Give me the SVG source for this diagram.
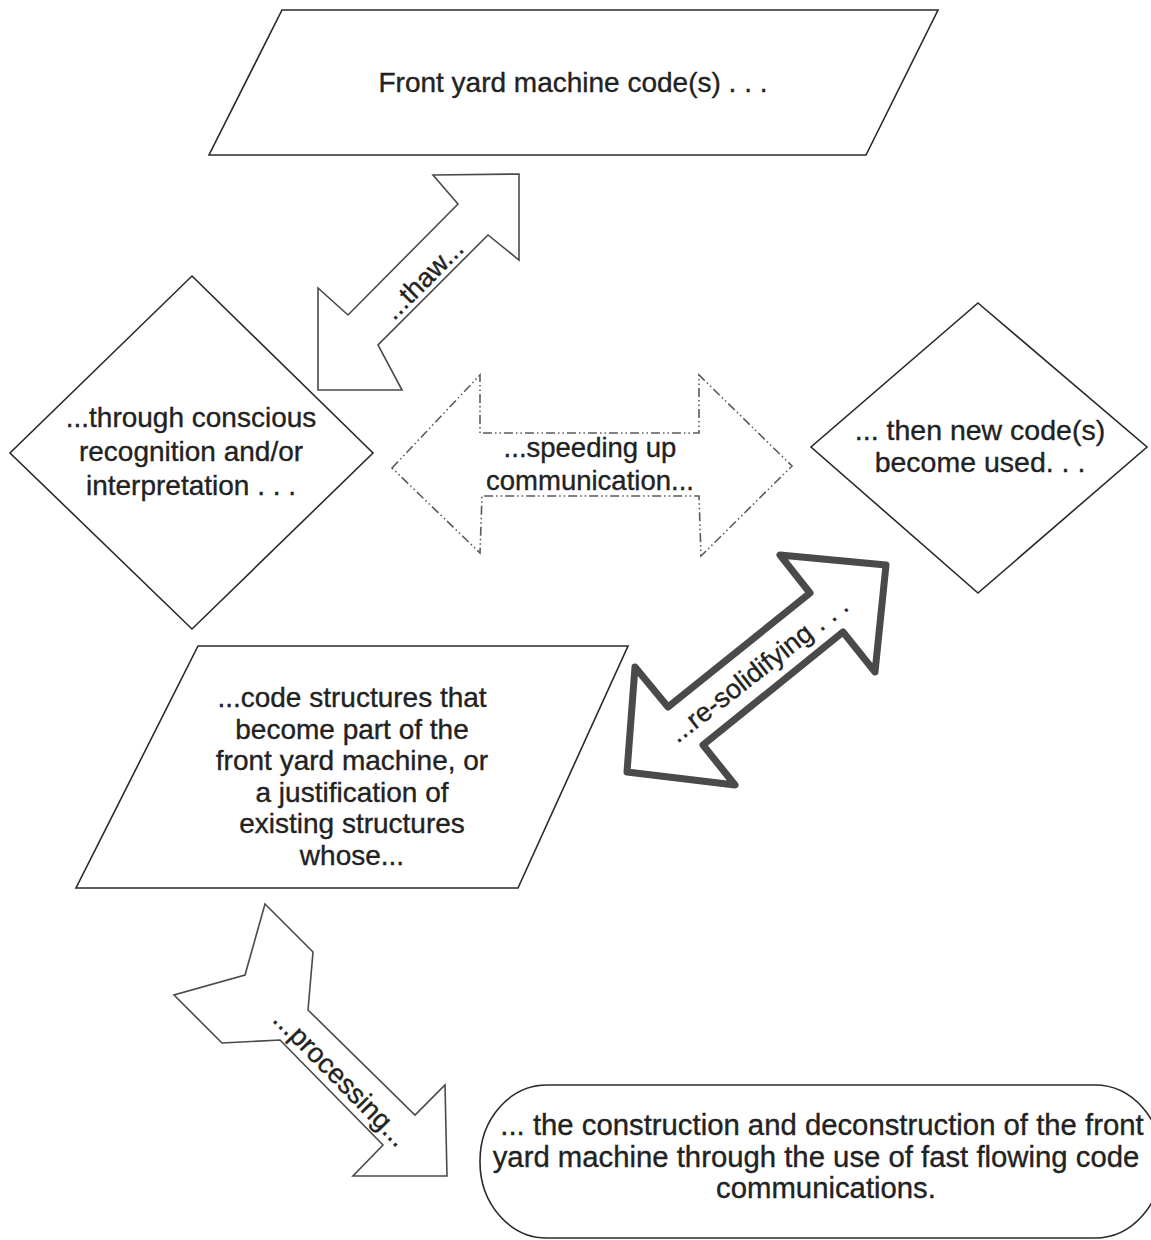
<svg xmlns="http://www.w3.org/2000/svg" width="1151" height="1240" viewBox="0 0 1151 1240">
<style>
.shape{fill:#fff;stroke:#2a2a2a;stroke-width:1.6;stroke-linejoin:miter}
.thin{fill:#fff;stroke:#4a4a4a;stroke-width:1.6}
.dash{fill:none;stroke:#5a5a5a;stroke-width:1.6;stroke-dasharray:9 3 1.5 3 1.5 3}
.thick{fill:#fff;stroke:#4a4a4a;stroke-width:7;stroke-linejoin:round}
text{font-family:"Liberation Sans",Arial,sans-serif;fill:#222;stroke:#222;stroke-width:0.35;text-anchor:middle}
</style>
<rect width="1151" height="1240" fill="#fff"/>
<g id="connectors">
  <g id="thaw">
    <polygon class="thin" points="433,175 519,174 519,260 488,235 378,345 402,390 318,390 318,288 348,315 458,204"/>
    <text transform="translate(424,280) rotate(-45)" y="8" font-size="27">...thaw...</text>
  </g>
  <g id="speeding">
    <polygon class="dash" points="392,468 480,375 480,433 699,433 699,375 792,466 701,556 699,496 482,496 480,553"/>
    <text x="590" y="457" font-size="27.5">...speeding up</text>
    <text x="590" y="490" font-size="27.5">communication...</text>
  </g>
  <g id="resolidifying">
    <polygon class="thick" points="780,555 886,565 875,672 843,632 703,745 735,785 627,772 635,667 668,707 810,593"/>
    <text transform="translate(759,670) rotate(-38)" y="8" font-size="27">...re-solidifying . . .</text>
  </g>
  <g id="processing">
    <polygon class="thin" points="265,904 313,952 308,1010 415,1115 445,1085 447,1176 353,1176 383,1145 280,1040 222,1043 174,995 245,975"/>
    <text transform="translate(340,1079) rotate(45.5)" y="8" font-size="27.5">...processing...</text>
  </g>
</g>
<g id="node-top">
  <polygon class="shape" points="282,10 938,10 866,155 209,155"/>
  <text x="573" y="92" font-size="28">Front yard machine code(s) . . .</text>
</g>
<g id="node-left">
  <polygon class="shape" points="192,276 373,453 192,629 10,453"/>
  <text x="191" y="427" font-size="28">...through conscious</text>
  <text x="191" y="461" font-size="28">recognition and/or</text>
  <text x="191" y="495" font-size="28">interpretation . . .</text>
</g>
<g id="node-right">
  <polygon class="shape" points="978,303 1147,447 978,593 811,447"/>
  <text x="980" y="440" font-size="28.5">... then new code(s)</text>
  <text x="980" y="472" font-size="28.5">become used. . .</text>
</g>
<g id="node-middle">
  <polygon class="shape" points="198,646 628,646 518,888 76,888"/>
  <text x="352" y="707" font-size="28">...code structures that</text>
  <text x="352" y="739" font-size="28">become part of the</text>
  <text x="352" y="770" font-size="28">front yard machine, or</text>
  <text x="352" y="802" font-size="28">a justification of</text>
  <text x="352" y="833" font-size="28">existing structures</text>
  <text x="352" y="865" font-size="28">whose...</text>
</g>
<g id="node-bottom">
  <rect class="shape" x="480" y="1085" width="682" height="153" rx="67" ry="76"/>
  <text x="822" y="1135" font-size="29.3">... the construction and deconstruction of the front</text>
  <text x="816" y="1167" font-size="29.3">yard machine through the use of fast flowing code</text>
  <text x="826" y="1198" font-size="29.3">communications.</text>
</g>
</svg>
